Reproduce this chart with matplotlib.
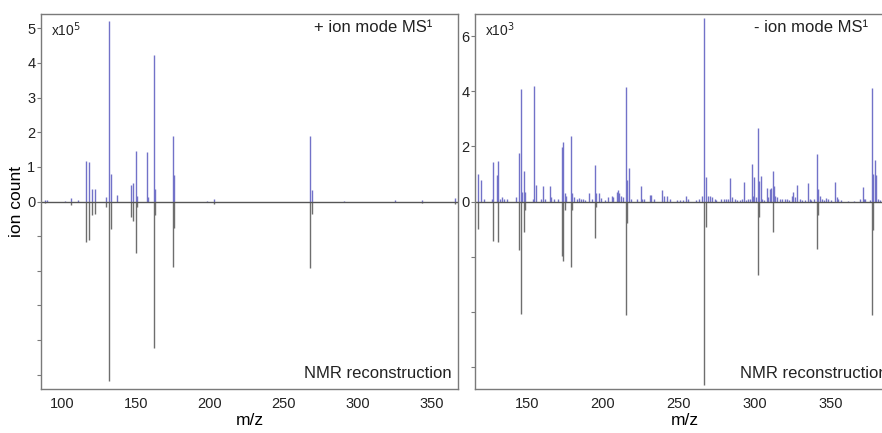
import matplotlib
matplotlib.use("Agg")
import matplotlib.pyplot as plt
from matplotlib.transforms import offset_copy

plt.rcParams["font.family"] = ["Liberation Sans", "DejaVu Sans"]

# + ion mode, MS1 peaks (m/z, intensity in 1e5)
pos_ms_mz = [88.5, 90.0, 102.0, 105.9, 111.0, 116.0, 118.0, 120.0, 122.1, 129.7,
             132.0, 132.9, 137.0, 146.6, 147.8, 150.0, 150.9, 157.2, 158.3, 162.2,
             163.1, 175.0, 175.9, 197.8, 202.9, 267.8, 268.8, 290.7, 325.0, 343.0,
             365.5]
pos_ms_int = [0.04, 0.03, 0.02, 0.10, 0.03, 1.18, 1.13, 0.36, 0.35, 0.14,
              5.20, 0.80, 0.20, 0.47, 0.53, 1.46, 0.15, 1.42, 0.12, 4.22,
              0.37, 1.90, 0.76, 0.02, 0.08, 1.90, 0.33, 0.02, 0.03, 0.05,
              0.10]

# + ion mode, NMR reconstruction (drawn downward)
pos_nmr_mz = [88.5, 105.9, 116.0, 118.0, 120.0, 122.1, 129.7, 132.0, 132.9, 146.6,
              147.8, 150.0, 150.9, 162.2, 163.1, 175.0, 175.9, 202.9, 267.8, 268.8,
              343.0, 365.5]
pos_nmr_int = [0.04, 0.10, 1.18, 1.12, 0.38, 0.37, 0.15, 5.18, 0.80, 0.45,
               0.55, 1.49, 0.15, 4.22, 0.38, 1.90, 0.76, 0.07, 1.92, 0.35,
               0.05, 0.06]

# - ion mode, MS1 peaks (m/z, intensity in 1e3)
neg_ms_mz = [118.2, 120.2, 121.9, 127.0, 128.0, 130.3, 131.1, 132.4, 134.0, 135.3,
             137.3, 143.0, 145.2, 146.1, 146.9, 148.0, 149.1, 153.9, 155.0, 156.3,
             159.2, 160.9, 162.0, 165.1, 166.0, 168.2, 170.8, 173.0, 174.1, 175.0,
             175.7, 179.1, 180.0, 181.3, 182.9, 184.6, 185.7, 186.8, 188.4, 191.0,
             193.2, 194.9, 196.0, 197.6, 198.9, 201.3, 203.3, 205.9, 207.0, 209.2,
             210.1, 210.9, 212.3, 213.2, 215.3, 216.2, 217.1, 218.4, 222.8, 225.0,
             226.1, 227.4, 231.1, 232.2, 233.8, 239.0, 240.5, 242.1, 244.3, 248.7,
             250.9, 253.0, 254.8, 256.3, 261.8, 263.6, 265.5, 267.1, 268.0, 269.1,
             270.6, 272.1, 273.9, 275.0, 278.3, 279.8, 281.6, 282.9, 284.2, 285.1,
             287.0, 288.6, 290.3, 291.6, 293.0, 294.3, 296.0, 297.4, 298.2, 299.1,
             300.0, 301.1, 302.2, 303.0, 304.1, 305.3, 306.6, 308.1, 309.0, 310.1,
             310.9, 312.0, 312.9, 313.8, 315.1, 316.6, 318.4, 319.9, 321.3, 322.8,
             324.5, 325.4, 326.5, 328.3, 329.8, 331.1, 333.1, 335.5, 336.4, 337.5,
             339.5, 341.2, 342.1, 343.0, 344.5, 345.8, 347.4, 348.7, 350.2, 353.3,
             354.1, 355.0, 356.8, 361.6, 365.8, 369.3, 371.3, 372.1, 373.0, 375.9,
             377.6, 378.3, 379.2, 380.3, 381.3, 382.9]
neg_ms_int = [1.00, 0.79, 0.10, 0.10, 1.44, 0.95, 1.47, 0.10, 0.15, 0.10,
              0.08, 0.15, 1.75, 4.07, 0.35, 1.09, 0.35, 0.10, 4.19, 0.60,
              0.08, 0.55, 0.10, 0.55, 0.15, 0.10, 0.08, 1.99, 2.15, 0.30,
              0.20, 2.38, 0.30, 0.15, 0.10, 0.12, 0.10, 0.08, 0.07, 0.30,
              0.10, 1.33, 0.30, 0.30, 0.12, 0.05, 0.15, 0.20, 0.15, 0.35,
              0.40, 0.30, 0.20, 0.15, 4.14, 0.78, 1.23, 0.10, 0.10, 0.55,
              0.10, 0.10, 0.25, 0.25, 0.08, 0.40, 0.20, 0.20, 0.08, 0.05,
              0.05, 0.07, 0.20, 0.08, 0.05, 0.08, 0.20, 6.64, 0.90, 0.20,
              0.20, 0.15, 0.10, 0.05, 0.08, 0.08, 0.10, 0.10, 0.85, 0.15,
              0.08, 0.05, 0.05, 0.08, 0.70, 0.05, 0.10, 0.10, 1.36, 0.20,
              0.88, 0.15, 2.66, 0.75, 0.93, 0.10, 0.05, 0.48, 0.15, 0.45,
              0.50, 1.11, 0.55, 0.20, 0.15, 0.10, 0.08, 0.08, 0.10, 0.07,
              0.20, 0.35, 0.15, 0.60, 0.08, 0.05, 0.05, 0.67, 0.10, 0.05,
              0.10, 1.72, 0.45, 0.20, 0.08, 0.07, 0.12, 0.08, 0.05, 0.72,
              0.15, 0.10, 0.05, 0.03, 0.03, 0.08, 0.52, 0.10, 0.08, 0.05,
              4.13, 1.00, 1.50, 0.95, 0.10, 0.05]

# - ion mode, NMR reconstruction (drawn downward)
neg_nmr_mz = [118.2, 128.0, 131.1, 145.2, 146.1, 148.0, 149.1, 173.0, 174.1, 175.0,
              179.1, 180.0, 194.9, 196.0, 215.3, 216.2, 267.1, 268.0, 302.2, 303.0,
              312.0, 341.2, 342.1, 377.6, 378.3]
neg_nmr_int = [1.00, 1.45, 1.48, 1.77, 4.07, 1.09, 0.30, 1.99, 2.17, 0.30,
               2.38, 0.30, 1.33, 0.20, 4.13, 0.78, 6.64, 0.91, 2.68, 0.55,
               1.11, 1.72, 0.48, 4.13, 1.02]

ms_color = "#7272c8"
nmr_color = "#6e6e6e"
frame_color = "#7a7a7a"
text_color = "#222222"

fig = plt.figure(figsize=(8.82, 4.33), dpi=100)
ax1 = fig.add_axes([41 / 882, 1 - 389 / 433, 417 / 882, 375 / 433])
ax2 = fig.add_axes([475 / 882, 1 - 389 / 433, 419 / 882, 375 / 433])


def draw_panel(ax, ms_mz, ms_int, nmr_mz, nmr_int, xlim, ylim, yticks, ylabels,
               xticks, scale, mode):
    ax.vlines(ms_mz, 0, ms_int, color=ms_color, lw=1.0)
    ax.vlines(nmr_mz, 0, [-v for v in nmr_int], color=nmr_color, lw=1.0)
    ax.axhline(0, color="#555555", lw=1.0)
    ax.set_xlim(*xlim)
    ax.set_ylim(*ylim)
    ax.set_yticks(yticks)
    ax.set_yticklabels(ylabels)
    ax.set_xticks(xticks)
    ax.tick_params(axis="y", length=3, width=0.8, color=frame_color, pad=1,
                   labelsize=10.5, labelcolor=text_color)
    ax.tick_params(axis="x", length=0, pad=6, labelsize=10.5, labelcolor=text_color)
    for s in ax.spines.values():
        s.set_color(frame_color)
        s.set_linewidth(1.0)
    ax.set_xlabel("m/z", fontsize=12.5, labelpad=1)

    # corner labels, offsets in pixels from the axes corners
    ax.text(0, 1, scale, fontsize=10, ha="left", va="top", color=text_color,
            transform=offset_copy(ax.transAxes, fig=fig, x=10, y=-6, units="dots"))
    ax.text(1, 1, mode, fontsize=12, ha="right", va="center", color=text_color,
            transform=offset_copy(ax.transAxes, fig=fig, x=-26, y=-14, units="dots"))
    ax.text(1, 0, "NMR reconstruction", fontsize=12, ha="right", va="bottom",
            color=text_color,
            transform=offset_copy(ax.transAxes, fig=fig, x=-6, y=8, units="dots"))


draw_panel(ax1, pos_ms_mz, pos_ms_int, pos_nmr_mz, pos_nmr_int,
           (85.8, 367.6), (-5.41, 5.41), [-5, -4, -3, -2, -1, 0, 1, 2, 3, 4, 5],
           ["", "", "", "", "", "0", "1", "2", "3", "4", "5"],
           [100, 150, 200, 250, 300, 350], r"x10$^5$", "+ ion mode MS¹")
draw_panel(ax2, neg_ms_mz, neg_ms_int, neg_nmr_mz, neg_nmr_int,
           (116.0, 391.9), (-6.8, 6.8), [-6, -4, -2, 0, 2, 4, 6],
           ["", "", "", "0", "2", "4", "6"],
           [150, 200, 250, 300, 350], r"x10$^3$", "- ion mode MS¹")

ax1.set_ylabel("ion count", fontsize=12.5, labelpad=2)

fig.savefig("out.png", dpi=100)
